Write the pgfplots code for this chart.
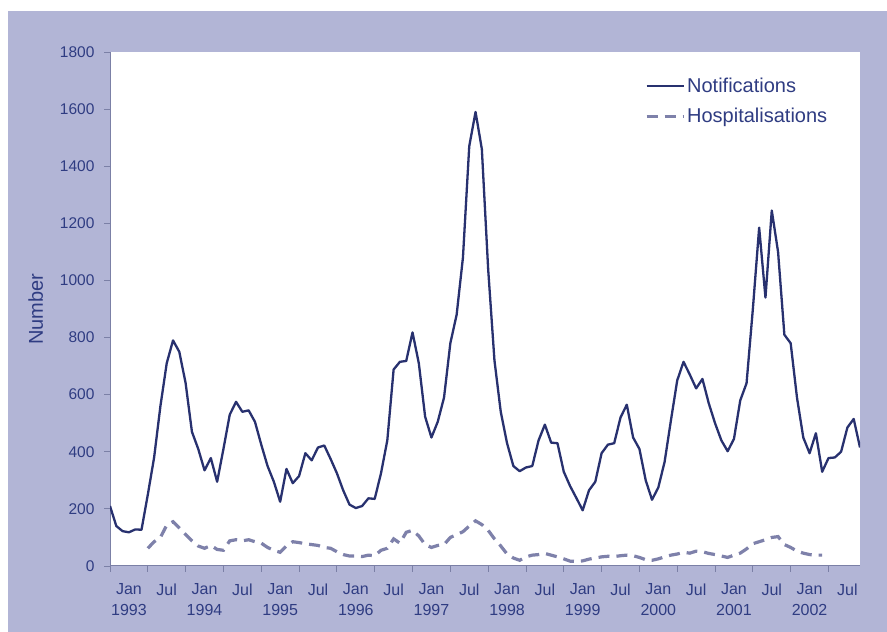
\documentclass[border=0pt]{standalone}
\usepackage{fontspec}
\setmainfont{Liberation Sans}
\usepackage{pgfplots}
\usepackage{pgfplotstable}
\pgfplotsset{compat=1.18}
\definecolor{bgpanel}{HTML}{B2B5D6}
\definecolor{navytext}{HTML}{2F3C82}
\definecolor{notifline}{HTML}{28316F}
\definecolor{hospline}{HTML}{7E81AA}
\definecolor{axisgrey}{HTML}{7B80A6}

% month index: 0 = Jan 1993
\pgfplotstableread{
m n
0 210
1 140
2 122
3 118
4 128
5 127
6 250
7 380
8 560
9 710
10 790
11 750
12 640
13 470
14 410
15 335
16 378
17 295
18 410
19 530
20 575
21 540
22 545
23 505
24 425
25 350
26 295
27 225
28 340
29 290
30 315
31 395
32 370
33 415
34 422
35 375
36 325
37 265
38 215
39 203
40 210
41 237
42 235
43 325
44 440
45 688
46 715
47 718
48 818
49 710
50 523
51 450
52 505
53 590
54 780
55 880
56 1080
57 1470
58 1590
59 1460
60 1040
61 720
62 540
63 430
64 350
65 332
66 345
67 350
68 440
69 495
70 432
71 430
72 330
73 280
74 238
75 195
76 265
77 295
78 395
79 425
80 430
81 520
82 565
83 450
84 410
85 300
86 232
87 275
88 365
89 510
90 650
91 715
92 670
93 622
94 655
95 570
96 500
97 440
98 402
99 445
100 580
101 640
102 900
103 1185
104 940
105 1245
106 1100
107 810
108 780
109 590
110 450
111 395
112 465
113 330
114 378
115 380
116 400
117 485
118 515
119 415
}\notif

\pgfplotstableread{
m h
6 62
7 85
8 100
9 143
10 155
11 133
12 110
13 88
14 70
15 62
16 72
17 58
18 55
19 88
20 92
21 88
22 92
23 85
24 80
25 65
26 55
27 48
28 70
29 85
30 82
31 78
32 75
33 72
34 65
35 62
36 50
37 40
38 35
39 35
40 33
41 38
42 36
43 55
44 62
45 95
46 80
47 118
48 125
49 105
50 75
51 65
52 72
53 75
54 100
55 110
56 120
57 140
58 158
59 145
60 125
61 95
62 70
63 42
64 28
65 20
66 32
67 38
68 40
69 44
70 38
71 32
72 25
73 17
74 16
75 18
76 24
77 28
78 32
79 34
80 33
81 36
82 38
83 36
84 30
85 22
86 20
87 25
88 32
89 38
90 42
91 48
92 45
93 52
94 50
95 44
96 40
97 35
98 30
99 38
100 45
101 60
102 78
103 85
104 92
105 100
106 103
107 75
108 65
109 52
110 45
111 40
112 38
113 38
}\hosp

\begin{document}
\begin{tikzpicture}
\useasboundingbox (0,0) rectangle (887pt,632pt);
\fill[white] (0,0) rectangle (887pt,632pt);
\fill[bgpanel] (8pt,0) rectangle (887pt,621pt);
\begin{axis}[
  at={(110pt,66pt)}, anchor=south west,
  scale only axis, width=750pt, height=514pt,
  xmin=0, xmax=119, ymin=0, ymax=1800,
  axis x line*=bottom, axis y line*=left,
  axis line style={axisgrey, line width=1pt},
  axis background/.style={fill=white},
  tick align=outside,
  major tick length=6pt, minor tick length=6pt,
  tick style={axisgrey, line width=0.8pt},
  ytick={0,200,...,1800},
  xtick={3,9,...,117},
  major x tick style={draw=none},
  minor xtick={0,6,...,114},
  xticklabels={Jan\\1993,Jul,Jan\\1994,Jul,Jan\\1995,Jul,Jan\\1996,Jul,Jan\\1997,Jul,
    Jan\\1998,Jul,Jan\\1999,Jul,Jan\\2000,Jul,Jan\\2001,Jul,Jan\\2002,Jul},
  xticklabel style={align=center, font=\fontsize{16}{21}\selectfont, text=navytext,
    yshift=-8pt},
  yticklabel style={font=\fontsize{15.5}{17}\selectfont, text=navytext, xshift=-6pt},
  /pgf/number format/assume math mode=true,
  /pgf/number format/1000 sep={},
  ylabel={Number},
  ylabel style={font=\fontsize{20}{22}\selectfont, text=navytext,
    at={(axis description cs:-0.099,0.5)}, anchor=center},
  legend style={draw=none, fill=none, at={(axis description cs:0.713,0.953)},
    anchor=north west, font=\fontsize{20}{22}\selectfont, text=navytext,
    row sep=10pt, inner sep=0pt},
  legend cell align=left,
  legend image code/.code={\draw[#1] (0pt,0pt) -- (37pt,0pt);},
]
\addplot[notifline, line width=2.3pt, line join=round] table[x=m,y=n]{\notif};
\addlegendentry{Notifications}
\addplot[hospline, line width=3.2pt, dash pattern=on 11pt off 7pt] table[x=m,y=h]{\hosp};
\addlegendentry{Hospitalisations}
\end{axis}
\end{tikzpicture}
\end{document}
